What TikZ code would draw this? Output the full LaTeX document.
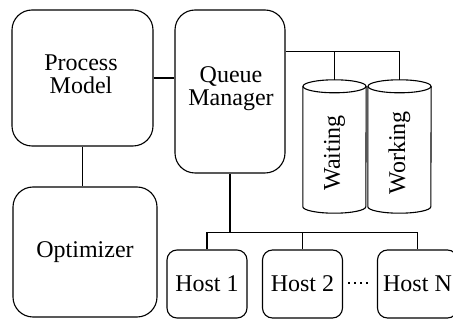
\documentclass[tikz,border=0pt]{standalone}
\usepackage{fontspec}
\setmainfont{Liberation Serif}
\usetikzlibrary{calc}
\tikzset{
  box/.style={draw, line width=1.1pt, rounded corners=20pt, inner sep=0pt, align=center,
    font=\fontsize{24}{24}\selectfont},
  hostbox/.style={box, rounded corners=10pt, minimum width=80pt, minimum height=68pt},
  lbl/.style={inner sep=0pt, align=center, font=\fontsize{24}{22.5}\selectfont},
  cylbody/.style={inner sep=0pt, minimum width=63pt, minimum height=120pt,
    font=\fontsize{24}{24}\selectfont},
  link/.style={line width=1.1pt},
  dotsline/.style={line width=1.5pt, dash pattern=on 1.5pt off 4.5pt}
}
\begin{document}
\begin{tikzpicture}[x=1pt,y=-1pt]
\useasboundingbox (0,0) rectangle (453,320);
\clip (0,0) rectangle (453,320);
% boxes
\node[box, minimum width=141pt, minimum height=136pt] (pm) at (82.5,78) {};
\node[lbl] (pmt) at (81,74.5) {Process\\Model};
\node[box, minimum width=110pt, minimum height=163pt] (qm) at (230,91.5) {};
\node[lbl] (qmt) at (231,88.5) {Queue\\Manager};
\node[box, minimum width=144pt, minimum height=130pt] (opt) at (85,252) {Optimizer};
\node[hostbox] (h1) at (207,284) {Host 1};
\node[hostbox] (h2) at (302.5,284) {Host 2};
\node[hostbox] (hn) at (417.5,284) {Host N};
% cylinders
\node[cylbody] (wait) at (334.5,153) {\rotatebox{90}{Waiting}};
\node[cylbody] (work) at (399.5,153) {\rotatebox{90}{Working}};
\foreach \c in {wait,work}{
  \draw[link] ($(\c.north)+(0,-6.5)$) ellipse[x radius=31.5, y radius=6.5];
  \draw[link] ($(\c.north west)+(0,-6.5)$) -- ($(\c.south west)+(0,-6.5)$)
     arc[start angle=180, end angle=0, x radius=31.5, y radius=6.5]
     -- ($(\c.north east)+(0,-6.5)$);
  \coordinate (\c top) at ($(\c.north)+(0,-13)$);
}
% connectors
\draw[link] (pm.east) -- (pm.east -| qm.west);
\draw[link] (pm.south) -- (pm.south |- opt.north);
\coordinate (cbus) at ($(qm.north east)+(0,42)$);
\draw[link] (cbus) -| (worktop);
\draw[link] (cbus -| waittop) -- (waittop);
\coordinate (hb) at ($(qm.south)+(0,59)$);
\draw[link] (qm.south) -- (hb);
\draw[link] (h1.north) |- (hb) -| (hn.north);
\draw[link] (hb -| h2.north) -- (h2.north);
\draw[dotsline] ($(h2.east)+(5,-1)$) -- ($(hn.west)+(-6,-1)$);
\end{tikzpicture}
\end{document}
